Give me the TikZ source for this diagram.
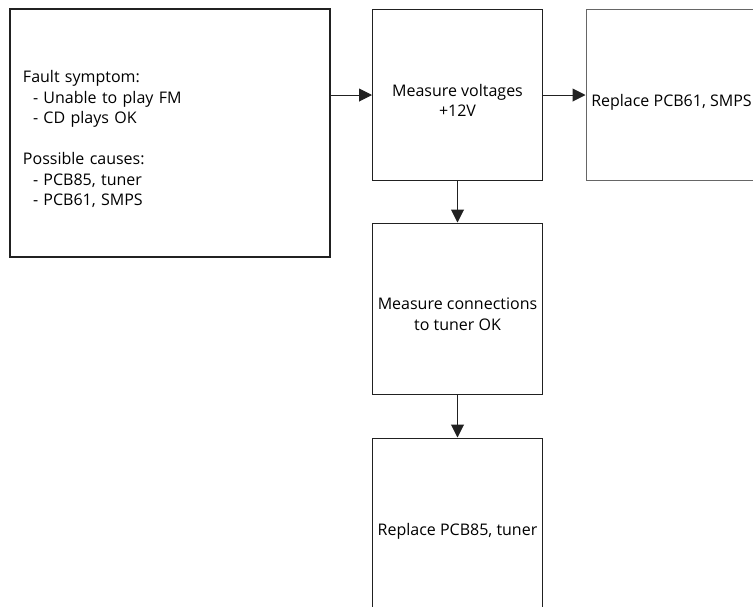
\documentclass[tikz,border=0pt]{standalone}
\usepackage{fontspec}
\setmainfont{Open Sans}
\usetikzlibrary{arrows.meta,positioning}
\newcommand{\colorFlowLine}{black!87}
\newcommand{\colorFlowGray}{black!60}
% text sits a little below the box centre
\newcommand{\flowtext}[2][c]{\raisebox{0pt}[\dimexpr\height+15pt\relax][\depth]{\begin{tabular}{@{}#1@{}}#2\end{tabular}}}
\tikzset{
  flowbox/.style={draw=\colorFlowLine, line width=1pt, minimum width=170pt, minimum height=171pt,
    inner sep=0pt, align=center, font=\fontsize{16}{20.5}\selectfont},
  flowarrow/.style={draw=\colorFlowLine, line width=1pt, -{Triangle[length=13pt,width=13pt]}}
}

\begin{document}
\begin{tikzpicture}[x=1pt,y=-1pt]
      \useasboundingbox (0,0) rectangle (753,606);
      \clip (0,0) rectangle (753,606);

      \node[flowbox, line width=2pt, minimum width=320pt, minimum height=248pt,
        text width=294pt, align=left] (fault) at (170,132.5)
        {\flowtext[l]{Fault symptom:\\
         \hspace*{10pt}- Unable to play FM\\
         \hspace*{10pt}- CD plays OK\\[20.5pt]
         Possible causes:\\
         \hspace*{10pt}- PCB85, tuner\\
         \hspace*{10pt}- PCB61, SMPS}};

      \node[flowbox] (voltages) at (457.5,95) {\flowtext{Measure voltages\\+12V}};
      \node[flowbox, draw=\colorFlowGray, minimum width=171pt] (smps) at (671.5,95) {\flowtext{Replace PCB61, SMPS}};
      \node[flowbox] (connections) at (457.5,308.5) {\flowtext{Measure connections\\to tuner OK}};
      \node[flowbox] (tuner) at (457.5,523.5) {\flowtext{Replace PCB85, tuner}};

      \draw[flowarrow] (voltages.west -| fault.east) -- (voltages.west);
      \draw[flowarrow] (voltages.east) -- (smps.west);
      \draw[flowarrow] (voltages.south) -- (connections.north);
      \draw[flowarrow] (connections.south) -- (tuner.north);
    \end{tikzpicture}
\end{document}
